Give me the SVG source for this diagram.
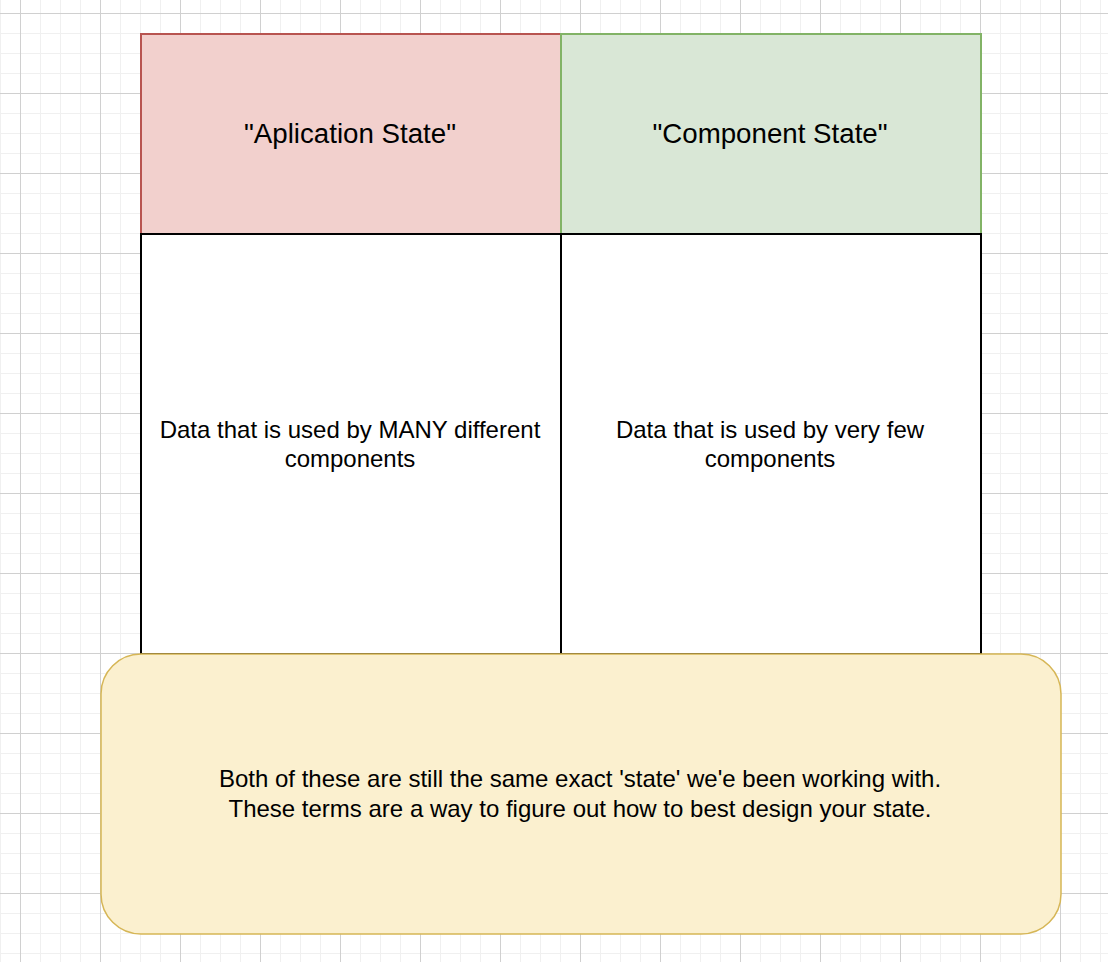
<svg xmlns="http://www.w3.org/2000/svg" width="1108" height="962" viewBox="0 0 1108 962">
  <style>
    .t { font-family: "Liberation Sans", Arial, sans-serif; fill: #000; text-anchor: middle; dominant-baseline: central; }
    .h { font-size: 27.7px; }
    .b { font-size: 24px; }
    .cell { fill: #ffffff; stroke: #000; stroke-width: 2; }
  </style>
  <defs>
    <pattern id="grid" x="20" y="13" width="80" height="80" patternUnits="userSpaceOnUse">
      <path d="M20.5 0V80M40.5 0V80M60.5 0V80M0 20.5H80M0 40.5H80M0 60.5H80" stroke="#f0f0f0" stroke-width="1" fill="none"/>
      <path d="M0.5 0V80M0 0.5H80" stroke="#d0d0d0" stroke-width="1" fill="none"/>
    </pattern>
  </defs>
  <rect width="1108" height="962" fill="#ffffff"/>
  <rect width="1108" height="962" fill="url(#grid)"/>

  <g id="app-state-header">
    <rect x="141" y="34" width="420" height="200" fill="#f2d0cd" stroke="#b85450" stroke-width="2"/>
    <text class="t h" x="350" y="133">"Aplication State"</text>
  </g>
  <g id="component-state-header">
    <rect x="561" y="34" width="420" height="200" fill="#d9e7d6" stroke="#82b366" stroke-width="2"/>
    <text class="t h" x="770" y="133">"Component State"</text>
  </g>
  <g id="app-state-body">
    <rect class="cell" x="141" y="234" width="420" height="420"/>
    <text class="t b" x="350" y="429">Data that is used by MANY different</text>
    <text class="t b" x="350" y="458">components</text>
  </g>
  <g id="component-state-body">
    <rect class="cell" x="561" y="234" width="420" height="420"/>
    <text class="t b" x="770" y="429">Data that is used by very few</text>
    <text class="t b" x="770" y="458">components</text>
  </g>
  <g id="note">
    <rect x="101" y="654" width="960" height="280" rx="40" ry="40" fill="#fbf0cf" stroke="#d6b656" stroke-width="1.5"/>
    <text class="t b" x="580" y="778">Both of these are still the same exact 'state' we'e been working with.</text>
    <text class="t b" x="580" y="808">These terms are a way to figure out how to best design your state.</text>
  </g>
  <g id="connectors"/>
</svg>
